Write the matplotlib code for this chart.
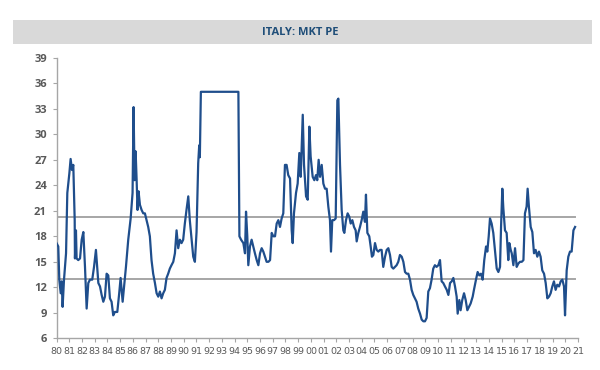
import matplotlib
matplotlib.use("Agg")
import matplotlib.pyplot as plt
from matplotlib.patches import Rectangle

title = "ITALY: MKT PE"

# decimal years and PE values, in three blocks
years_a = [
    1980.0, 1980.14, 1980.22, 1980.33, 1980.41, 1980.48, 1980.59, 1980.75, 1980.85, 1981.01,
    1981.11, 1981.22, 1981.32, 1981.43, 1981.45, 1981.53, 1981.58, 1981.71, 1981.85, 1981.98,
    1982.11, 1982.24, 1982.37, 1982.5, 1982.63, 1982.81, 1982.95, 1983.1, 1983.29, 1983.42,
    1983.55, 1983.68, 1983.81, 1983.94, 1984.07, 1984.2, 1984.33, 1984.46, 1984.59, 1984.78,
    1984.93, 1985.04, 1985.2, 1985.3, 1985.46, 1985.64, 1985.83, 1985.98, 1986.06, 1986.14,
    1986.22, 1986.3, 1986.37, 1986.45, 1986.56, 1986.69, 1986.82, 1986.95, 1987.08, 1987.21,
    1987.34, 1987.47, 1987.6, 1987.74, 1987.87, 1988.0, 1988.13, 1988.26, 1988.39, 1988.52,
    1988.65, 1988.78, 1988.91, 1989.04, 1989.18, 1989.31, 1989.44, 1989.57, 1989.7, 1989.83,
    1989.96, 1990.09, 1990.22, 1990.36, 1990.48, 1990.62, 1990.75, 1990.88, 1991.01, 1991.14,
    1991.22, 1991.27, 1991.35, 1994.3,
]
pe_a = [
    17.2, 16.8, 12.9, 11.3, 12.7, 9.7, 12.9, 16.0, 23.1, 25.4,
    27.1, 25.8, 26.4, 19.9, 15.4, 18.7, 15.4, 15.2, 15.4, 17.6,
    18.5, 14.4, 9.5, 12.5, 12.9, 12.9, 14.4, 16.4, 12.5, 12.1,
    11.1, 10.3, 10.9, 13.6, 13.4, 10.7, 10.3, 8.7, 9.1, 9.1,
    11.3, 13.1, 10.3, 11.9, 14.4, 17.6, 20.1, 23.1, 33.2, 24.6,
    28.0, 24.6, 21.1, 23.3, 21.7, 21.1, 20.7, 20.7, 19.9, 19.1,
    18.0, 15.2, 13.6, 12.5, 11.3, 10.9, 11.5, 10.7, 11.3, 11.7,
    13.1, 13.6, 14.2, 14.6, 15.0, 16.0, 18.7, 16.6, 17.6, 17.2,
    17.6, 19.5, 21.1, 22.7, 19.9, 17.6, 15.6, 15.0, 18.5, 26.6,
    28.7, 27.3, 35.0, 35.0,
]

years_b = [
    1994.38, 1994.51, 1994.69, 1994.82, 1994.9, 1995.0, 1995.08, 1995.21, 1995.34, 1995.47,
    1995.6, 1995.74, 1995.87, 1996.0, 1996.13, 1996.26, 1996.39, 1996.52, 1996.66, 1996.79,
    1996.92, 1997.05, 1997.18, 1997.31, 1997.44, 1997.57, 1997.7, 1997.83, 1997.96, 1998.09,
    1998.22, 1998.36, 1998.49, 1998.57, 1998.67, 1998.83, 1998.96, 1999.09, 1999.2, 1999.36,
    1999.46, 1999.62, 1999.75, 1999.88, 1999.98, 2000.14, 2000.27, 2000.4, 2000.5, 2000.61,
    2000.72, 2000.85, 2000.98, 2001.11, 2001.24, 2001.37, 2001.5, 2001.58, 2001.68, 2001.82,
    2001.95, 2002.08, 2002.16, 2002.29, 2002.42, 2002.55, 2002.63, 2002.76, 2002.89, 2003.02,
    2003.13, 2003.26, 2003.39, 2003.52, 2003.6, 2003.73, 2003.86, 2003.99, 2004.12, 2004.25,
    2004.33, 2004.44, 2004.59, 2004.7, 2004.8, 2004.91, 2005.04, 2005.17, 2005.3, 2005.43,
    2005.56, 2005.69, 2005.83, 2005.96, 2006.09, 2006.22, 2006.35, 2006.48, 2006.61, 2006.74,
    2006.87, 2007.0,
]
pe_b = [
    18.0, 17.6, 17.2, 16.0, 20.9, 18.0, 14.6, 16.8, 17.6, 16.8,
    16.0, 15.2, 14.6, 16.0, 16.6, 16.2, 15.6, 15.0, 15.0, 15.2,
    18.4, 18.0, 18.0, 19.5, 19.9, 19.1, 20.1, 20.7, 26.4, 26.4,
    25.2, 24.8, 18.7, 17.2, 20.7, 23.1, 24.2, 27.8, 25.0, 32.3,
    26.4, 22.7, 22.3, 30.9, 27.4, 25.0, 24.6, 25.2, 24.6, 27.0,
    25.0, 26.4, 24.2, 23.6, 23.6, 21.5, 19.9, 16.2, 19.9, 19.9,
    20.1, 34.0, 34.2, 26.4, 21.1, 18.7, 18.4, 19.9, 20.7, 20.3,
    19.5, 19.9, 19.1, 18.7, 17.4, 18.4, 19.1, 19.9, 20.9, 19.7,
    22.9, 18.4, 18.0, 16.8, 15.6, 15.8, 17.2, 16.4, 16.2, 16.4,
    16.4, 14.4, 15.6, 16.4, 16.6, 15.8, 14.4, 14.2, 14.4, 14.6,
    15.0, 15.8,
]

years_c = [
    2007.14, 2007.27, 2007.4, 2007.53, 2007.66, 2007.79, 2007.92, 2008.05, 2008.18, 2008.31,
    2008.44, 2008.58, 2008.71, 2008.84, 2008.97, 2009.1, 2009.23, 2009.36, 2009.49, 2009.62,
    2009.75, 2009.88, 2010.02, 2010.15, 2010.28, 2010.41, 2010.54, 2010.68, 2010.81, 2010.94,
    2011.07, 2011.2, 2011.33, 2011.46, 2011.54, 2011.67, 2011.77, 2011.9, 2012.04, 2012.17,
    2012.3, 2012.43, 2012.56, 2012.72, 2012.82, 2012.98, 2013.11, 2013.24, 2013.37, 2013.5,
    2013.63, 2013.77, 2013.87, 2013.98, 2014.08, 2014.21, 2014.34, 2014.47, 2014.61, 2014.74,
    2014.87, 2014.95, 2015.05, 2015.13, 2015.26, 2015.39, 2015.52, 2015.6, 2015.71, 2015.79,
    2015.92, 2016.05, 2016.18, 2016.31, 2016.44, 2016.58, 2016.71, 2016.83, 2016.96, 2017.04,
    2017.14, 2017.28, 2017.41, 2017.54, 2017.67, 2017.8, 2017.93, 2018.06, 2018.19, 2018.33,
    2018.46, 2018.59, 2018.72, 2018.85, 2018.98, 2019.11, 2019.24, 2019.37, 2019.51, 2019.64,
    2019.77, 2019.9, 2019.98, 2020.11, 2020.24, 2020.37, 2020.5, 2020.64, 2020.77,
]
pe_c = [
    15.6, 15.0, 13.8, 13.6, 13.6, 12.9, 11.7, 11.1, 10.7, 10.3,
    9.5, 8.9, 8.2, 8.0, 8.0, 8.4, 11.5, 11.9, 12.9, 14.2,
    14.6, 14.4, 14.6, 15.2, 12.7, 12.5, 12.1, 11.7, 11.1, 12.5,
    12.7, 13.1, 12.1, 10.9, 8.9, 10.5, 9.3, 10.5, 11.3, 10.5,
    9.3, 9.7, 10.1, 10.9, 11.7, 12.9, 13.8, 13.4, 13.6, 12.9,
    15.2, 16.8, 16.2, 18.0, 20.1, 19.5, 18.4, 16.4, 14.2, 13.8,
    14.4, 19.1, 23.6, 21.3, 18.7, 18.4, 15.2, 17.2, 16.4, 16.0,
    14.6, 16.6, 14.4, 14.8, 15.0, 15.0, 15.2, 20.7, 21.5, 23.6,
    21.5, 19.1, 18.5, 16.0, 16.4, 15.6, 16.2, 15.6, 14.0, 13.6,
    12.5, 10.7, 10.9, 11.3, 12.1, 12.7, 11.7, 12.3, 12.1, 12.7,
    12.9, 12.1, 8.7, 14.0, 15.6, 16.2, 16.2, 18.7, 19.1,
]

years = years_a + years_b + years_c
pe = pe_a + pe_b + pe_c

upper_level = 20.3
lower_level = 13.0

x_ticks = list(range(1980, 2022))
x_labels = [f"{y % 100:02d}" for y in x_ticks]
y_ticks = list(range(6, 40, 3))

fig = plt.figure(figsize=(6.0, 3.7), dpi=100)
fig.patch.set_facecolor("white")

# title band
fig.patches.append(Rectangle((13 / 600, 1 - 44 / 370), 579 / 600, 24 / 370,
                             transform=fig.transFigure, facecolor="#d9d9d9",
                             edgecolor="none", zorder=0))
fig.text(0.5, 1 - 32.5 / 370, title, ha="center", va="center",
         fontsize=8, fontweight="bold", color="#1f4e79", family="Open Sans")

ax = fig.add_axes([56.5 / 600, 1 - 338.3 / 370, 521.5 / 600, 280.5 / 370])
ax.plot(years, pe, color="#1f4e8c", lw=1.6, solid_joinstyle="round", zorder=3)
end_frac = (years[-1] - 1980) / 41
ax.axhline(upper_level, color="#a6a6a6", lw=1.4, xmin=0, xmax=end_frac, zorder=2)
ax.axhline(lower_level, color="#a6a6a6", lw=1.4, xmin=0, xmax=end_frac, zorder=2)

ax.set_xlim(1980, 2021)
ax.set_ylim(6, 39)
ax.set_xticks(x_ticks)
ax.set_xticklabels(x_labels)
ax.set_yticks(y_ticks)

for s in ["top", "right"]:
    ax.spines[s].set_visible(False)
for s in ["left", "bottom"]:
    ax.spines[s].set_color("#a6a6a6")
    ax.spines[s].set_linewidth(1.0)

ax.tick_params(axis="x", length=3, color="#a6a6a6", pad=3, labelsize=6.8,
               labelcolor="#595959")
ax.tick_params(axis="y", length=3, color="#a6a6a6", pad=4, labelsize=8,
               labelcolor="#595959")
for lab in ax.get_yticklabels():
    lab.set_fontweight("bold")
    lab.set_family("Open Sans")
for lab in ax.get_xticklabels():
    lab.set_family("Liberation Sans Narrow")

fig.savefig("out.png", dpi=100, facecolor="white")
